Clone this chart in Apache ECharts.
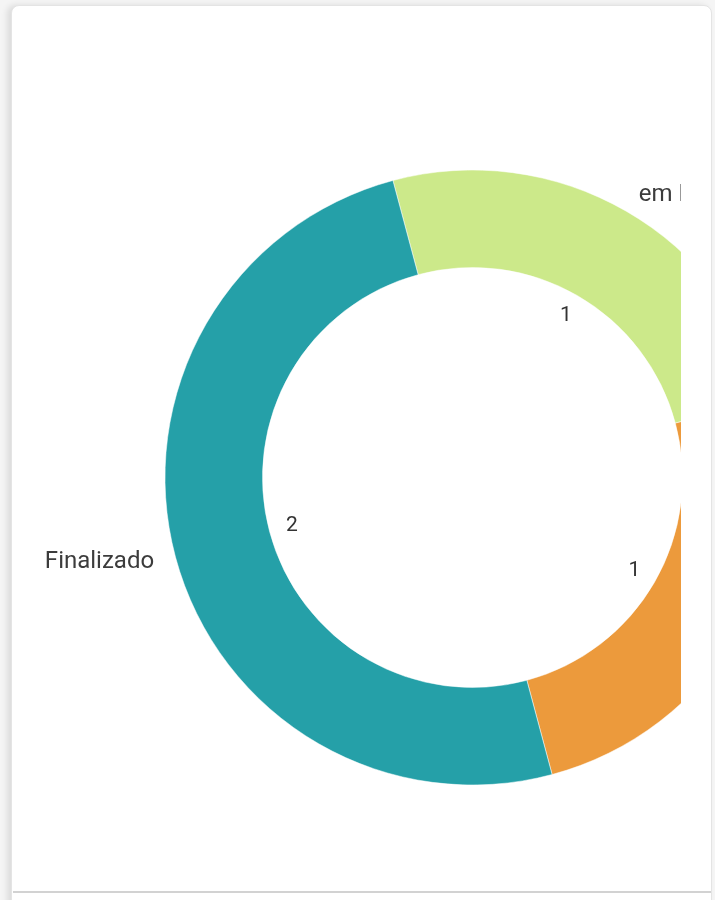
<!DOCTYPE html>
<html>
<head>
<meta charset="utf-8">
<script src="https://cdn.jsdelivr.net/npm/echarts@6/dist/echarts.min.js"></script>
<style>
  html, body {
    margin: 0;
    padding: 0;
    width: 715px;
    height: 900px;
    overflow: hidden;
    background: #f5f5f5;
    font-family: Roboto, sans-serif;
  }
  .card {
    position: absolute;
    left: 11px;
    top: 5px;
    width: 699px;
    height: 910px;
    background: #fff;
    border: 1px solid #e4e4e4;
    border-radius: 8px;
    box-shadow: -4px 0 6px rgba(0, 0, 0, 0.10);
  }
  .footer-line {
    position: absolute;
    left: 13px;
    top: 891px;
    width: 698px;
    height: 0;
    border-top: 2px solid #d2d2d2;
  }
  .chart-clip {
    position: absolute;
    left: 10px;
    top: 5px;
    width: 671px;
    height: 884px;
    overflow: hidden;
  }
  #chart {
    width: 900px;
    height: 884px;
  }
</style>
</head>
<body>
<div class="card"></div>
<div class="footer-line"></div>
<div class="chart-clip">
  <div id="chart"></div>
</div>
<script>
  // status categories and counts, in drawing order (clockwise)
  const categories = ['em Progresso', 'Pendente', 'Finalizado'];
  const counts = [1, 1, 2];
  const colors = ['#cce98a', '#ec9a3c', '#25a0a8'];

  const pieData = categories.map((name, i) => ({ name: name, value: counts[i] }));

  let option = {
    animation: false,
    color: colors,
    series: [
      {
        type: 'pie',
        radius: [210, 307.5],
        center: [462.5, 472.5],
        startAngle: 105,
        clockwise: true,
        avoidLabelOverlap: false,
        silent: true,
        itemStyle: { borderColor: '#fff', borderWidth: 0.5 },
        label: {
          show: true,
          position: 'outside',
          formatter: '{b}',
          fontFamily: 'Roboto',
          fontSize: 24,
          color: '#3c3c3c',
          distanceToLabelLine: 3
        },
        labelLine: { show: false, length: 19, length2: 0 },
        data: pieData
      },
      {
        // numbers shown just inside the hole
        type: 'pie',
        radius: [156, 212],
        center: [462.5, 472.5],
        startAngle: 105,
        clockwise: true,
        silent: true,
        itemStyle: { color: 'rgba(0,0,0,0)' },
        label: {
          show: true,
          position: 'inside',
          formatter: '{c}',
          fontFamily: 'Roboto',
          fontSize: 21,
          color: '#333',
          textBorderWidth: 0
        },
        labelLine: { show: false },
        data: pieData
      }
    ]
  };

  echarts.init(document.getElementById('chart')).setOption(option);
</script>
</body>
</html>
